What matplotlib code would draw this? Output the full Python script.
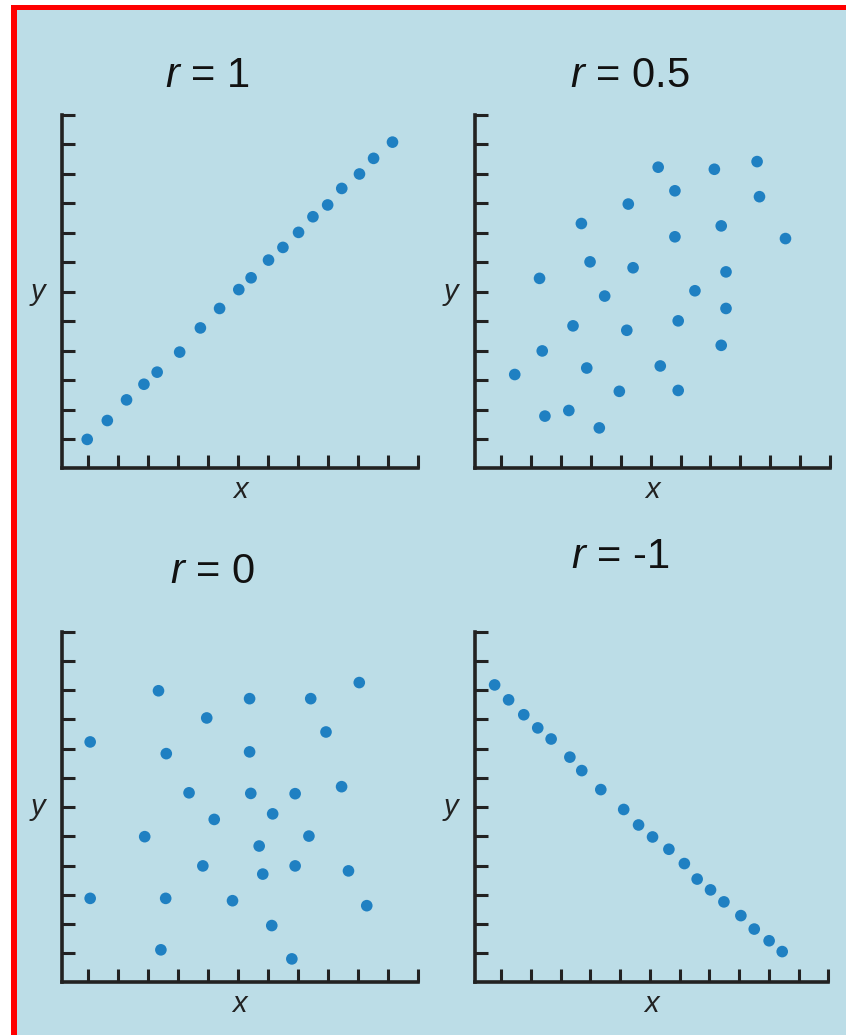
import matplotlib
matplotlib.use("Agg")
import matplotlib.pyplot as plt
from matplotlib.patches import Rectangle

plt.rcParams["font.family"] = ["Liberation Sans", "DejaVu Sans"]
plt.rcParams["mathtext.fontset"] = "custom"
plt.rcParams["mathtext.it"] = "Liberation Sans:italic"
plt.rcParams["mathtext.rm"] = "Liberation Sans"

# ---- data (tick spacing = 1 unit) ----
titles = ["1", "0.5", "0", "-1"]

x_r1 = [0.97, 1.64, 2.28, 2.86, 3.30, 4.05, 4.74, 5.38, 6.02, 6.43,
        7.01, 7.49, 8.01, 8.49, 8.98, 9.45, 10.04, 10.51, 11.14]
y_r1 = [1.00, 1.64, 2.34, 2.87, 3.28, 3.96, 4.78, 5.44, 6.08, 6.48,
        7.08, 7.51, 8.02, 8.55, 8.95, 9.51, 10.00, 10.53, 11.08]

x_r05 = [1.45, 2.28, 2.37, 2.46, 3.26, 3.40, 3.68, 3.86, 3.97, 4.28,
         4.46, 4.95, 5.20, 5.25, 5.41, 6.25, 6.32, 6.81, 6.81, 6.92,
         6.92, 7.48, 8.13, 8.36, 8.36, 8.52, 8.52, 9.56, 9.64, 10.51]
y_r05 = [3.20, 6.46, 4.00, 1.79, 1.98, 4.85, 8.32, 3.42, 7.02, 1.39,
         5.86, 2.63, 4.70, 8.98, 6.82, 10.23, 3.49, 9.43, 7.87, 5.02,
         2.66, 6.04, 10.16, 8.24, 4.19, 6.68, 5.44, 10.42, 9.23, 7.81]

x_r0 = [1.07, 1.07, 2.89, 3.35, 3.43, 3.61, 3.59, 4.37, 4.83, 4.96,
        5.21, 5.82, 6.39, 6.39, 6.43, 6.71, 6.83, 7.13, 7.16, 7.80,
        7.91, 7.91, 8.37, 8.43, 8.94, 9.46, 9.69, 10.05, 10.30]
y_r0 = [8.23, 2.88, 4.99, 9.98, 1.12, 7.83, 2.88, 6.49, 3.99, 9.05,
        5.58, 2.80, 9.71, 7.89, 6.47, 4.67, 3.71, 1.95, 5.77, 0.81,
        6.46, 3.99, 5.01, 9.71, 8.57, 6.70, 3.82, 10.26, 2.63]

x_rm1 = [0.78, 1.25, 1.76, 2.23, 2.68, 3.31, 3.71, 4.35, 5.12, 5.62,
         6.09, 6.64, 7.16, 7.59, 8.04, 8.49, 9.06, 9.51, 10.01, 10.45]
y_rm1 = [10.18, 9.67, 9.16, 8.71, 8.33, 7.71, 7.25, 6.60, 5.92, 5.39,
         4.98, 4.56, 4.07, 3.54, 3.17, 2.76, 2.29, 1.83, 1.43, 1.06]

ticks = list(range(1, 13))

W, H = 846, 1035
BG = "#bcdde7"
DOT = "#1f80c2"
INK = "#222222"

fig = plt.figure(figsize=(W / 100, H / 100), dpi=100, facecolor="white")

# page background + red frame (left and top only)
fig.patches.append(Rectangle((11 / W, 0), 1 - 11 / W, 1 - 5 / H, transform=fig.transFigure,
                             facecolor=BG, edgecolor="none", zorder=-10))
fig.patches.append(Rectangle((11 / W, 0), 6 / W, 1 - 5 / H, transform=fig.transFigure,
                             facecolor="#ff0000", edgecolor="none", zorder=-5))
fig.patches.append(Rectangle((11 / W, 1 - 10 / H), 1 - 11 / W, 5 / H, transform=fig.transFigure,
                             facecolor="#ff0000", edgecolor="none", zorder=-5))

# panel boxes in pixels: left, top, right, bottom
boxes = [(61.7, 115, 418.3, 468), (475, 115, 830, 468),
         (61.7, 631.7, 417.7, 981.7), (475, 631.7, 828.3, 981.7)]
title_pos = [(207, 76), (630, 76), (212, 572), (620, 557)]
series = [(x_r1, y_r1), (x_r05, y_r05), (x_r0, y_r0), (x_rm1, y_rm1)]

for (l, t, r, b), (xs, ys), ttl, (tx, ty) in zip(boxes, series, titles, title_pos):
    ax = fig.add_axes([l / W, 1 - b / H, (r - l) / W, (b - t) / H])
    ax.set_facecolor("none")
    ax.scatter(xs, ys, s=70, color=DOT, edgecolors="none", zorder=3, clip_on=False)
    ax.set_xlim(0.12, 12)
    ax.set_ylim(0.03, 12)
    ax.set_xticks(ticks)
    ax.set_yticks(ticks)
    ax.set_xticklabels([])
    ax.set_yticklabels([])
    ax.tick_params(direction="in", length=9.5, width=2.2, color=INK)
    for side in ["top", "right"]:
        ax.spines[side].set_visible(False)
    for side in ["left", "bottom"]:
        ax.spines[side].set_linewidth(2.6)
        ax.spines[side].set_color(INK)
    ax.annotate("x", xy=(0.5, 0), xycoords="axes fraction", xytext=(0, -16),
                textcoords="offset points", ha="center", va="center",
                fontsize=21, style="italic", color=INK)
    ax.annotate("y", xy=(0, 0.5), xycoords="axes fraction", xytext=(-17, 0),
                textcoords="offset points", ha="center", va="center",
                fontsize=21, style="italic", color=INK)
    fig.text(tx / W, 1 - ty / H, r"$\mathit{r}$ = " + ttl, ha="center", va="center",
             fontsize=30, color="#111111")

fig.savefig("out.png", dpi=100, facecolor=fig.get_facecolor())
